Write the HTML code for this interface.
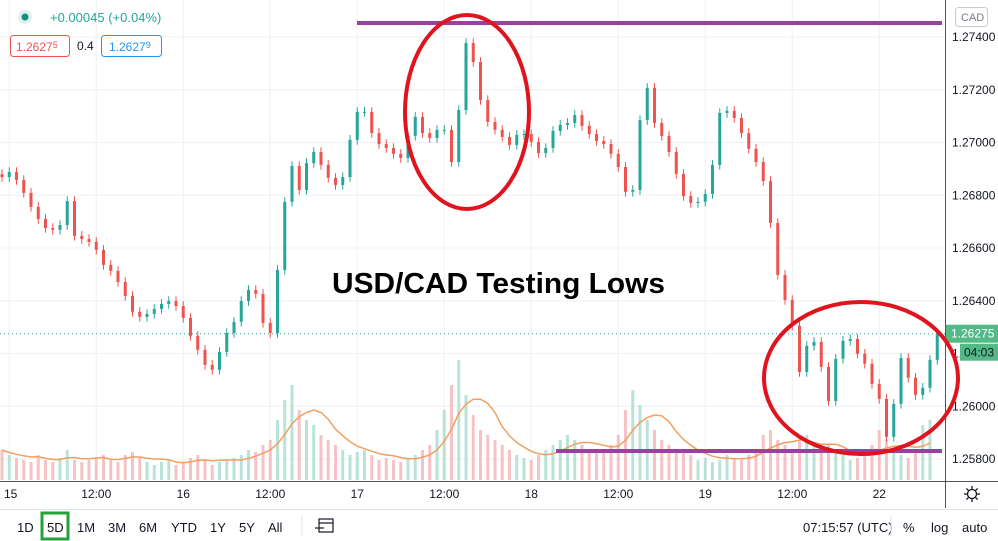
<!DOCTYPE html>
<html><head><meta charset="utf-8"><style>
html,body{margin:0;padding:0;background:#fff;}
body{width:998px;height:541px;overflow:hidden;position:relative;font-family:"Liberation Sans",sans-serif;}
svg{position:absolute;left:0;top:0;}
</style></head><body>
<svg id="chart" width="998" height="541" viewBox="0 0 998 541" xmlns="http://www.w3.org/2000/svg">
<g id="grid"></g>
<g id="vol"></g>
<g id="candles"></g>
<g id="axes"></g>
<g id="ann"></g>
</svg>
<script>
const closes=[1.26869,1.26888,1.26858,1.26809,1.26756,1.26710,1.26676,1.26669,1.26687,1.26778,1.26646,1.26634,1.26623,1.26593,1.26536,1.26513,1.26471,1.26418,1.26358,1.26339,1.26350,1.26369,1.26388,1.26399,1.26380,1.26335,1.26267,1.26214,1.26157,1.26138,1.26206,1.26278,1.26320,1.26399,1.26441,1.26426,1.26316,1.26278,1.26517,1.26775,1.26911,1.26820,1.26922,1.26964,1.26915,1.26866,1.26839,1.26869,1.27010,1.27116,1.27116,1.27036,1.26994,1.26979,1.26957,1.26941,1.27025,1.27097,1.27036,1.27017,1.27048,1.27048,1.26926,1.27123,1.27377,1.27305,1.27161,1.27078,1.27048,1.27021,1.26991,1.27029,1.27032,1.27002,1.26960,1.26979,1.27044,1.27067,1.27074,1.27104,1.27063,1.27032,1.27006,1.26994,1.26957,1.26907,1.26813,1.26820,1.27085,1.27207,1.27074,1.27025,1.26964,1.26881,1.26797,1.26771,1.26775,1.26805,1.26915,1.27112,1.27120,1.27093,1.27036,1.26976,1.26926,1.26854,1.26695,1.26498,1.26403,1.26305,1.26130,1.26229,1.26244,1.26149,1.26020,1.26180,1.26248,1.26255,1.26199,1.26161,1.26085,1.26028,1.25884,1.26009,1.26183,1.26108,1.26043,1.26070,1.26176,1.26275];
const firstOpen=1.26880;
const volumes=[30,25,22,20,18,25,20,18,22,30,20,18,20,22,25,20,18,25,28,22,18,15,18,20,15,18,22,25,20,15,18,20,22,25,30,28,35,40,60,80,95,70,60,55,45,40,35,30,25,28,30,25,20,22,20,18,22,25,30,35,50,70,95,120,85,65,50,45,40,35,30,25,22,20,25,30,35,40,45,40,35,30,28,30,35,45,70,90,75,60,50,40,35,30,28,25,20,22,18,20,25,22,20,25,30,45,50,40,35,30,40,45,35,30,35,30,25,20,22,25,35,50,40,30,25,22,30,55,60];
const priceTicks=[1.274,1.272,1.270,1.268,1.266,1.264,1.262,1.260,1.258];
const timeLabels=["15","12:00","16","12:00","17","12:00","18","12:00","19","12:00","22"];
const timeLabelHours=[1,13,25,37,49,61,73,85,97,109,121];

const NS="http://www.w3.org/2000/svg";
function mk(tag,attrs,parent){const e=document.createElementNS(NS,tag);for(const k in attrs)e.setAttribute(k,attrs[k]);parent.appendChild(e);return e;}
const yP=p=>37+(1.274-p)/0.002*52.75;
const xH=h=>2+h*7.25;
const yV=v=>480-v;

const grid=document.getElementById('grid');
priceTicks.forEach(p=>{const l=mk('line',{x1:0,x2:945,y1:yP(p),y2:yP(p),stroke:'#eef1f6','stroke-width':1},grid);

});
timeLabelHours.forEach(h=>{const l=mk('line',{x1:xH(h),x2:xH(h),y1:0,y2:481,stroke:'#eef1f6','stroke-width':1},grid);

});

const vol=document.getElementById('vol');
const cg=document.getElementById('candles');
let prev=firstOpen;
closes.forEach((c,i)=>{
  const o=prev; prev=c; const up=c>=o; const x=xH(i);
  const col=up?'#26a69a':'#ef5350';
  const v=mk('rect',{x:x-1.5,y:yV(volumes[i]),width:3,height:volumes[i],fill:up?'#a9dccd':'#f5b3b6',opacity:0.8},vol);
  
  
  const w=mk('line',{x1:x,x2:x,y1:yP(Math.max(o,c)+0.00018),y2:yP(Math.min(o,c)-0.00018),stroke:col,'stroke-width':1},cg);
  
  
  const b=mk('rect',{x:x-1.5,y:yP(Math.max(o,c)),width:3,height:Math.max(1,Math.abs(yP(o)-yP(c))),fill:col},cg);
  
  
});
let pts=[];
volumes.forEach((v,i)=>{let s=0,n=0;for(let k=Math.max(0,i-5);k<=i;k++){s+=volumes[k];n++;}pts.push(xH(i)+','+yV(s/n).toFixed(1));});
const ma=mk('polyline',{points:pts.join(' '),fill:'none',stroke:'#f0a060','stroke-width':1.5},vol);



const ax=document.getElementById('axes');
mk('line',{x1:945.5,x2:945.5,y1:0,y2:508,stroke:'#50535e','stroke-width':1},ax);
mk('line',{x1:0,x2:998,y1:481.5,y2:481.5,stroke:'#50535e','stroke-width':1},ax);
mk('line',{x1:0,x2:998,y1:509.5,y2:509.5,stroke:'#e0e3eb','stroke-width':1},ax);
priceTicks.forEach(p=>{const t=mk('text',{x:952,y:yP(p)+4,'font-size':12,fill:'#131722'},ax);t.textContent=p.toFixed(5);

});
timeLabels.forEach((s,i)=>{const t=mk('text',{x:xH(timeLabelHours[i]),y:498,'font-size':12,fill:'#131722','text-anchor':i==0?'start':'middle'},ax);t.textContent=s;
if(i==0)t.setAttribute('x',4);

});
const last=closes[closes.length-1];
mk('line',{x1:0,x2:945,y1:yP(last),y2:yP(last),stroke:'#26a69a','stroke-width':1,'stroke-dasharray':'1,3'},ax);
const pl=mk('rect',{x:946,y:yP(last)-9,width:52,height:18,fill:'#53b987'},ax);


const plt=mk('text',{x:951,y:yP(last)+4,'font-size':12,fill:'#fff'},ax);plt.textContent=last.toFixed(5);
mk('rect',{x:960,y:yP(last)+10,width:38,height:17,fill:'#53b987'},ax);
const cd=mk('text',{x:964,y:yP(last)+23,'font-size':12,fill:'#131722'},ax);cd.textContent='04:03';


</script>
<svg width="998" height="541" style="pointer-events:none" xmlns="http://www.w3.org/2000/svg">
<line x1="357" y1="23" x2="942" y2="23" stroke="#9b3fa0" stroke-width="4"/>
<line x1="556" y1="451" x2="942" y2="451" stroke="#9b3fa0" stroke-width="4"/>
<ellipse cx="467" cy="112" rx="62" ry="97" fill="none" stroke="#e0141e" stroke-width="4"/>
<ellipse cx="861" cy="378" rx="97" ry="76" fill="none" stroke="#e0141e" stroke-width="4"/>
<text x="332" y="293" font-size="29" font-weight="bold" fill="#000" font-family="Liberation Sans, sans-serif" textLength="333" lengthAdjust="spacingAndGlyphs">USD/CAD Testing Lows</text>
<circle cx="25" cy="17" r="7" fill="#dff0ee"/>
<circle cx="25" cy="17" r="3.5" fill="#138f7e"/>
<text x="50" y="22" font-size="13" fill="#26a69a">+0.00045 (+0.04%)</text>
<rect x="10.5" y="35.5" width="59" height="21" rx="3" fill="#fff" stroke="#ef5350"/>
<text x="16" y="51" font-size="12" fill="#ef5350">1.2627<tspan font-size="9" dy="-3">5</tspan></text>
<text x="77" y="50" font-size="12" fill="#131722">0.4</text>
<rect x="101.5" y="35.5" width="60" height="21" rx="3" fill="#fff" stroke="#2196f3"/>
<text x="109" y="51" font-size="12" fill="#2196f3">1.2627<tspan font-size="9" dy="-3">9</tspan></text>
<rect x="955.5" y="7.5" width="32" height="19" rx="3" fill="#fff" stroke="#c8cbd2"/>
<text x="961" y="21" font-size="11" fill="#787b86">CAD</text>
<g transform="translate(972,494)" stroke="#131722" fill="none" stroke-width="1.3">
<circle r="4.5"/><line x1="0" y1="-8" x2="0" y2="-5"/><line x1="0" y1="5" x2="0" y2="8"/><line x1="-8" y1="0" x2="-5" y2="0"/><line x1="5" y1="0" x2="8" y2="0"/>
<line x1="-5.6" y1="-5.6" x2="-3.6" y2="-3.6"/><line x1="3.6" y1="3.6" x2="5.6" y2="5.6"/><line x1="-5.6" y1="5.6" x2="-3.6" y2="3.6"/><line x1="3.6" y1="-3.6" x2="5.6" y2="-5.6"/>
</g>
<g font-size="13" fill="#131722" font-family="Liberation Sans, sans-serif">
<text x="17" y="532">1D</text>
<rect x="42" y="513" width="26" height="26" fill="none" stroke="#21a33a" stroke-width="3"/>
<text x="47" y="532">5D</text>
<text x="77" y="532">1M</text>
<text x="108" y="532">3M</text>
<text x="139" y="532">6M</text>
<text x="171" y="532">YTD</text>
<text x="210" y="532">1Y</text>
<text x="239" y="532">5Y</text>
<text x="268" y="532">All</text>
<line x1="302" y1="516" x2="302" y2="536" stroke="#e0e3eb"/>
<g stroke="#131722" fill="none" stroke-width="1.2"><rect x="319" y="519" width="14" height="13"/><line x1="319" y1="523" x2="333" y2="523"/><line x1="315" y1="528" x2="324" y2="528"/></g>
<text x="803" y="532">07:15:57 (UTC)</text>
<line x1="891" y1="516" x2="891" y2="536" stroke="#e0e3eb"/>
<text x="903" y="532">%</text>
<text x="931" y="532">log</text>
<text x="962" y="532">auto</text>
</g>
</svg>
</body></html>
